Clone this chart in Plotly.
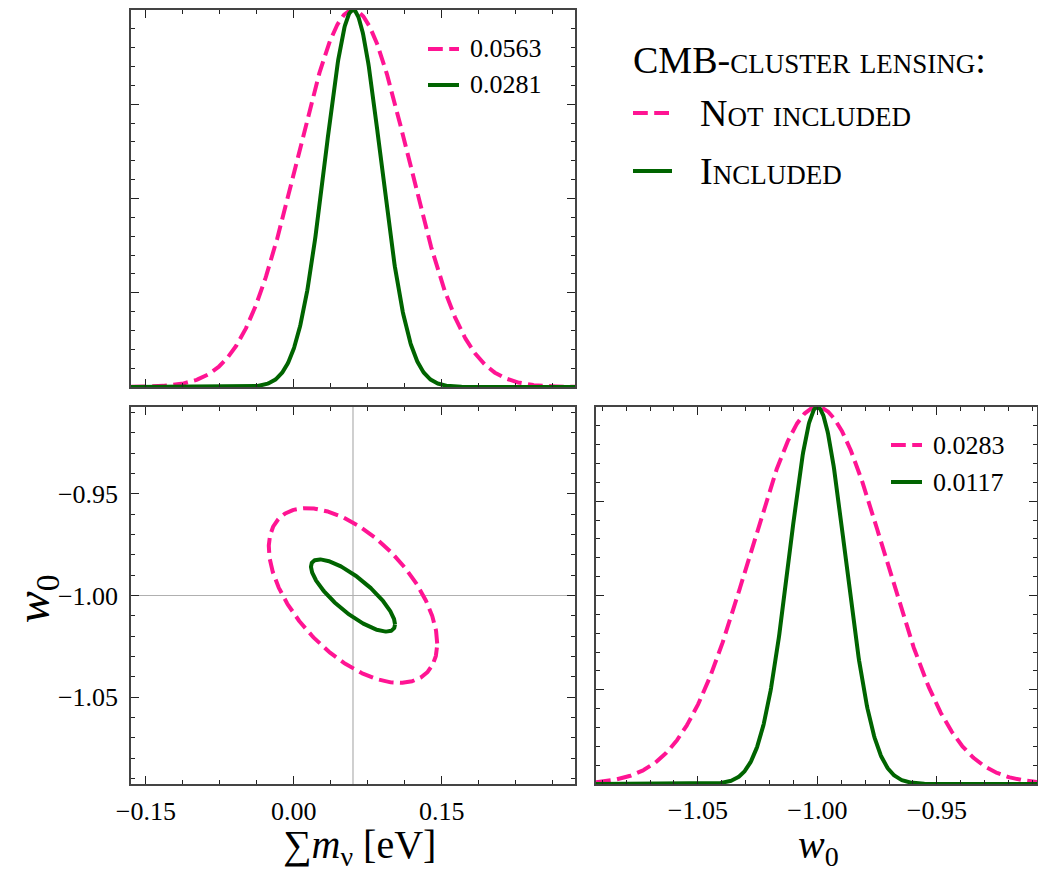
import numpy as np
import plotly.graph_objects as go

# ---------------- data ----------------
case_labels = ["Not included", "Included"]          # CMB-cluster lensing
fiducial_mnu = 0.06                                  # eV
fiducial_w0 = -1.0
sigma_mnu = [0.0563, 0.0281]                         # 1-sigma on sum m_nu
sigma_w0 = [0.0283, 0.0117]                          # 1-sigma on w0
corr_mnu_w0 = [-0.55, -0.80]                         # correlation coefficient
mnu_range = [-0.1651, 0.2851]
w0_range = [-1.0926, -0.9074]
mnu_tickvals = [-0.15, 0.0, 0.15]
w0_tickvals = [-1.05, -1.00, -0.95]
delta_chi2_68 = 2.30                                 # 68% 2D contour
title_mnu = "∑<i>m</i><sub>ν</sub> [eV]"
title_w0 = "<i>w</i><sub>0</sub>"

# ---------------- styles ----------------
colors = ["#FF1493", "#006400"]
dashes = ["14.8px,6.4px", "solid"]
LW = 4
FONT = "Liberation Serif"
W, H = 1038, 874


def px(x):
    return x / W


def py(y):
    return 1 - y / H


fig = go.Figure()

x_mnu = np.linspace(mnu_range[0], mnu_range[1], 800)
x_w0 = np.linspace(w0_range[0], w0_range[1], 800)

for i in range(2):
    # 1D marginal: sum m_nu
    fig.add_trace(go.Scatter(
        x=x_mnu, y=np.exp(-0.5 * ((x_mnu - fiducial_mnu) / sigma_mnu[i]) ** 2),
        mode="lines", line=dict(color=colors[i], width=LW, dash=dashes[i]),
        xaxis="x", yaxis="y", showlegend=False, name=f"{sigma_mnu[i]:.4f}"))
    # 1D marginal: w0
    fig.add_trace(go.Scatter(
        x=x_w0, y=np.exp(-0.5 * ((x_w0 - fiducial_w0) / sigma_w0[i]) ** 2),
        mode="lines", line=dict(color=colors[i], width=LW, dash=dashes[i]),
        xaxis="x3", yaxis="y3", showlegend=False, name=f"{sigma_w0[i]:.4f}"))
    # 2D 68% ellipse
    k = np.sqrt(delta_chi2_68)
    t = np.linspace(0, 2 * np.pi, 500)
    r = corr_mnu_w0[i]
    ex = fiducial_mnu + k * sigma_mnu[i] * np.cos(t)
    ey = fiducial_w0 + k * sigma_w0[i] * (r * np.cos(t) + np.sqrt(1 - r ** 2) * np.sin(t))
    fig.add_trace(go.Scatter(
        x=ex, y=ey, mode="lines",
        line=dict(color=colors[i], width=LW, dash=dashes[i]),
        xaxis="x2", yaxis="y2", showlegend=False, name=case_labels[i]))

# fiducial lines in the 2D panel
fig.add_shape(type="line", xref="x2", yref="y2 domain", x0=fiducial_mnu, x1=fiducial_mnu,
              y0=0, y1=1, line=dict(color="#b0b0b0", width=1.2), layer="below")
fig.add_shape(type="line", xref="x2 domain", yref="y2", x0=0, x1=1,
              y0=fiducial_w0, y1=fiducial_w0, line=dict(color="#b0b0b0", width=1.2), layer="below")

# ---------------- axes ----------------
common = dict(showline=True, linecolor="#444", linewidth=1.5, mirror="allticks",
              ticks="inside", ticklen=8, tickwidth=1.1, tickcolor="#222",
              showgrid=False, zeroline=False, automargin=False,
              tickfont=dict(family=FONT, size=26, color="black"))

colL = [px(131), px(575)]
colR = [px(596), px(1037)]
rowT = [py(387), py(10)]
rowB = [py(784), py(407)]

w0_range_x3 = [w0_range[0], w0_range[0] + (1037 - 596) / 119.5 * 0.05]

fig.update_layout(
    width=W, height=H, margin=dict(l=0, r=0, t=0, b=0),
    paper_bgcolor="white", plot_bgcolor="white",
    font=dict(family=FONT, color="black"),
    xaxis=dict(common, domain=colL, anchor="y", range=mnu_range, tickmode="linear",
               tick0=0, dtick=0.15, showticklabels=False,
               minor=dict(ticks="inside", ticklen=4, dtick=0.0375, tick0=0, tickcolor="#222")),
    yaxis=dict(common, domain=rowT, anchor="x", range=[0, 1], tickmode="linear",
               tick0=0, dtick=0.25, showticklabels=False,
               minor=dict(ticks="inside", ticklen=4, dtick=0.05, tick0=0, tickcolor="#222")),
    xaxis2=dict(common, domain=colL, anchor="y2", range=mnu_range, tickmode="array",
                tickvals=mnu_tickvals, tickformat=".2f", ticklabelstandoff=3,
                minor=dict(ticks="inside", ticklen=4, dtick=0.0375, tick0=0, tickcolor="#222")),
    yaxis2=dict(common, domain=rowB, anchor="x2", range=w0_range, tickmode="array",
                tickvals=w0_tickvals, tickformat=".2f", ticklabelstandoff=6,
                minor=dict(ticks="inside", ticklen=4, dtick=0.01, tick0=-1, tickcolor="#222")),
    xaxis3=dict(common, domain=colR, anchor="y3", range=w0_range_x3, tickmode="array",
                tickvals=w0_tickvals, tickformat=".2f", ticklabelstandoff=2,
                minor=dict(ticks="inside", ticklen=4, dtick=0.01, tick0=-1, tickcolor="#222")),
    yaxis3=dict(common, domain=rowB, anchor="x3", range=[0, 1], tickmode="linear",
                tick0=0, dtick=0.25, showticklabels=False,
                minor=dict(ticks="inside", ticklen=4, dtick=0.05, tick0=0, tickcolor="#222")),
)

# axis titles as annotations, placed relative to the axis domains
fig.add_annotation(xref="x2 domain", yref="paper", x=0.515, y=0, xanchor="center",
                   yanchor="bottom", text=title_mnu, showarrow=False,
                   font=dict(family=FONT, size=40, color="black"))
fig.add_annotation(xref="x3 domain", yref="paper", x=0.505, y=0, xanchor="center",
                   yanchor="bottom", text=title_w0, showarrow=False,
                   font=dict(family=FONT, size=40, color="black"))
fig.add_annotation(xref="paper", yref="y2 domain", x=px(4), y=0.49, xanchor="left",
                   yanchor="middle", text=title_w0, showarrow=False, textangle=-90,
                   font=dict(family=FONT, size=48, color="black"))

# ---------------- legends (keys drawn as shapes, labels as text) ----------------
def legend_key(x0, x1, y, i):
    fig.add_shape(type="line", xref="paper", yref="paper", x0=px(x0), x1=px(x1),
                  y0=py(y), y1=py(y),
                  line=dict(color=colors[i], width=LW, dash=dashes[i]))


def label(x, y, text, size, variant="normal"):
    fig.add_annotation(xref="paper", yref="paper", x=px(x), y=py(y), text=text,
                       showarrow=False, xanchor="left", yanchor="middle",
                       font=dict(family=FONT, size=size, color="black", variant=variant))


# panel legend: sum m_nu
for i, yy in enumerate([49, 85]):
    legend_key(428, 459, yy, i)
    label(468, yy, f"{sigma_mnu[i]:.4f}", 26)
# panel legend: w0
for i, yy in enumerate([445, 482]):
    legend_key(891, 922, yy, i)
    label(931, yy, f"{sigma_w0[i]:.4f}", 26)

# main legend
label(631, 60, "CMB-cluster lensing:", 38, "small-caps")
for i, yy in enumerate([113, 171]):
    legend_key(633, 672, yy, i)
    label(698, yy, case_labels[i], 38, "small-caps")

fig.write_html("out.html")
